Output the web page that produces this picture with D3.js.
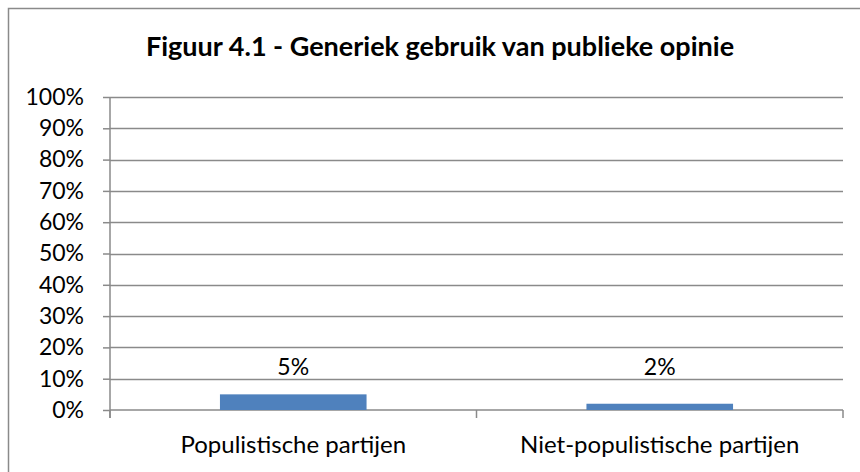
<!DOCTYPE html>
<html lang="nl">
<head>
    <meta charset="utf-8">
    <title>Figuur 4.1</title>
    <script src="https://d3js.org/d3.v7.min.js"></script>
    <style>
        body { margin: 0; background: #fff; }
        svg text { font-family: Lato, "Open Sans", sans-serif; fill: #000; }
    </style>
</head>
<body>
<div id="chart"></div>
<script>
    // chart data
    const title = "Figuur 4.1 - Generiek gebruik van publieke opinie";
    const categories = ["Populistische partijen", "Niet-populistische partijen"];
    const values = [0.05, 0.02];
    const yTicks = [0, 0.1, 0.2, 0.3, 0.4, 0.5, 0.6, 0.7, 0.8, 0.9, 1.0];

    const width = 860, height = 472;
    const margin = {top: 97, right: 17, bottom: 62, left: 110};
    const grey = "#8a8a8a";
    const pct = d3.format(".0%");

    const svg = d3.select("#chart").append("svg")
        .attr("width", width)
        .attr("height", height);

    // outer frame, runs off the right and bottom of the picture
    svg.append("rect")
        .attr("x", 8.5).attr("y", 8.5)
        .attr("width", width + 20).attr("height", height + 20)
        .attr("fill", "none")
        .attr("stroke", grey)
        .attr("stroke-width", 1.5);

    svg.append("text")
        .attr("x", 440).attr("y", 56)
        .attr("text-anchor", "middle")
        .attr("font-size", 27)
        .attr("font-weight", "bold")
        .text(title);

    const x = d3.scaleBand()
        .domain(categories)
        .range([margin.left, width - margin.right])
        .paddingInner(0).paddingOuter(0);

    const y = d3.scaleLinear()
        .domain([0, 1])
        .range([height - margin.bottom, margin.top]);

    // gridlines
    svg.append("g")
        .selectAll("line")
        .data(yTicks.slice(1))
        .join("line")
        .attr("x1", margin.left).attr("x2", width - margin.right)
        .attr("y1", d => Math.round(y(d)) + 0.5).attr("y2", d => Math.round(y(d)) + 0.5)
        .attr("stroke", grey)
        .attr("stroke-width", 1.5);

    // y axis
    const yAxis = svg.append("g")
        .attr("transform", `translate(${margin.left},0)`)
        .call(d3.axisLeft(y).tickValues(yTicks).tickFormat(pct).tickSize(7).tickPadding(19));
    yAxis.selectAll("line, path").attr("stroke", grey).attr("stroke-width", 1.5);
    yAxis.select(".domain").attr("d", `M0,${y(1)}V${y(0) + 8}`);
    yAxis.selectAll("text").attr("font-size", 23).attr("font-family", "Lato, sans-serif").attr("fill", "#000");

    // x axis
    const xAxis = svg.append("g")
        .attr("transform", `translate(0,${y(0)})`)
        .call(d3.axisBottom(x).tickSize(0).tickPadding(26));
    xAxis.select(".domain").attr("d", `M${margin.left},0H${width - margin.right}`)
        .attr("stroke", grey).attr("stroke-width", 1.5);
    xAxis.selectAll("text").attr("font-size", 24).attr("font-family", "Lato, sans-serif").attr("fill", "#000");
    const bounds = [margin.left, margin.left + x.bandwidth(), width - margin.right];
    xAxis.selectAll(".cat-tick")
        .data(bounds)
        .join("line")
        .attr("class", "cat-tick")
        .attr("x1", d => d).attr("x2", d => d)
        .attr("y1", 0).attr("y2", 8)
        .attr("stroke", grey)
        .attr("stroke-width", 1.5);

    // bars
    const barW = x.bandwidth() * 0.4;
    svg.append("g")
        .selectAll("rect")
        .data(values)
        .join("rect")
        .attr("x", (d, i) => x(categories[i]) + (x.bandwidth() - barW) / 2)
        .attr("y", d => y(d))
        .attr("width", barW)
        .attr("height", d => y(0) - y(d))
        .attr("fill", "#4f81bd");

    // value labels, set in one row above the tallest bar
    const labelY = y(d3.max(values)) - 19;
    svg.append("g")
        .selectAll("text")
        .data(values)
        .join("text")
        .attr("x", (d, i) => x(categories[i]) + x.bandwidth() / 2)
        .attr("y", labelY)
        .attr("text-anchor", "middle")
        .attr("font-size", 23)
        .text(d => pct(d));
</script>
</body>
</html>
